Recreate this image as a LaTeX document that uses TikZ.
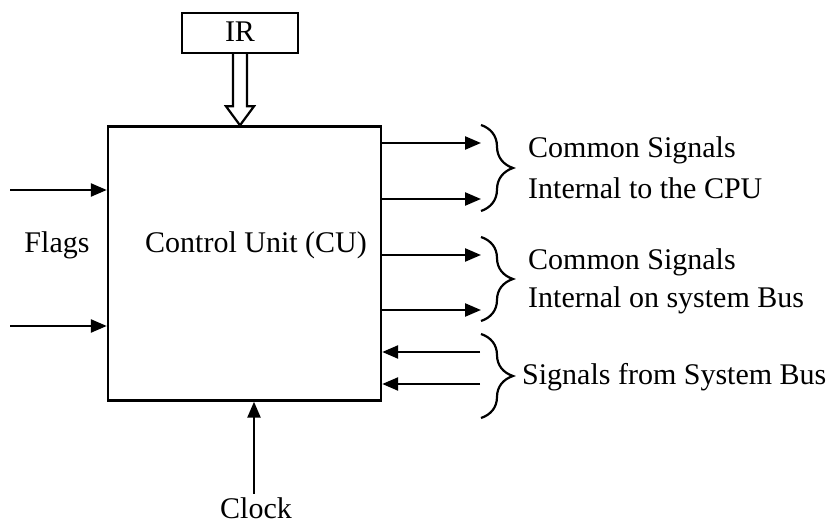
\documentclass[tikz,border=0pt]{standalone}
\usepackage{fontspec}
\setmainfont{Liberation Serif}
\usetikzlibrary{arrows.meta,decorations.pathreplacing,calc}
\begin{document}
\begin{tikzpicture}[x=1pt,y=-1pt,line width=2.4pt,
  arr/.style={-{Triangle[length=16pt,width=13pt]}},
  txt/.style={font=\fontsize{30}{34}\selectfont,inner sep=0pt},
  brc/.style={decorate,decoration={brace,amplitude=32pt},line width=2.2pt},
  box/.style={draw,line width=2.4pt,inner sep=0pt}]
\useasboundingbox (0,0) rectangle (831,526);
% boxes
\node[box,minimum width=116pt,minimum height=40pt] (IR) at (240,33) {};
\node[txt] (IRt) at (240,32) {IR};
\node[box,minimum width=273pt,minimum height=274pt] (CU) at (244.5,263.5) {};
\node[txt] (CUt) at (256,245) {Control Unit (CU)};
% double arrow from IR
\coordinate (dtip) at (IR.south |- CU.north);
\draw[line width=2.2pt,line join=miter]
  ($(IR.south)+(-7,0)$) -- ($(dtip)+(-7,-19)$) -- ($(dtip)+(-14,-19)$) -- (dtip)
  -- ($(dtip)+(14,-19)$) -- ($(dtip)+(7,-19)$) -- ($(IR.south)+(7,0)$);
% flags
\coordinate (f1) at (10,190);
\coordinate (f2) at (10,326);
\draw[arr] (f1) -- (f1 -| CU.west);
\draw[arr] (f2) -- (f2 -| CU.west);
\node[txt] (flags) at (57,245) {Flags};
% outputs
\foreach \n/\y in {o1/143,o2/199,o3/255,o4/310}{
  \coordinate (\n) at (481,\y);
  \draw[arr] (\n -| CU.east) -- (\n);
}
\foreach \n/\y in {i1/352,i2/384}{
  \coordinate (\n) at (480,\y);
  \draw[arr] (\n) -- (\n -| CU.east);
}
% braces
\coordinate (b1t) at (481,125); \coordinate (b1b) at (481,211);
\coordinate (b2t) at (481,237); \coordinate (b2b) at (481,321);
\coordinate (b3t) at (481,334); \coordinate (b3b) at (481,418);
\draw[brc] (b1t) -- (b1b);
\draw[brc] (b2t) -- (b2b);
\draw[brc] (b3t) -- (b3b);
\node[txt,anchor=west] (t1) at (527,150) {Common Signals};
\node[txt,anchor=west] (t2) at (527,188) {Internal to the CPU};
\node[txt,anchor=west] (t3) at (527,262) {Common Signals};
\node[txt,anchor=west] (t4) at (527,300) {Internal on system Bus};
\node[txt,anchor=west] (t5) at (521,377) {Signals from System Bus};
% clock
\node[txt] (clk) at (256,508) {Clock};
\coordinate (ck) at (254,494);
\draw[arr] (ck) -- (ck |- CU.south);
\end{tikzpicture}
\end{document}
